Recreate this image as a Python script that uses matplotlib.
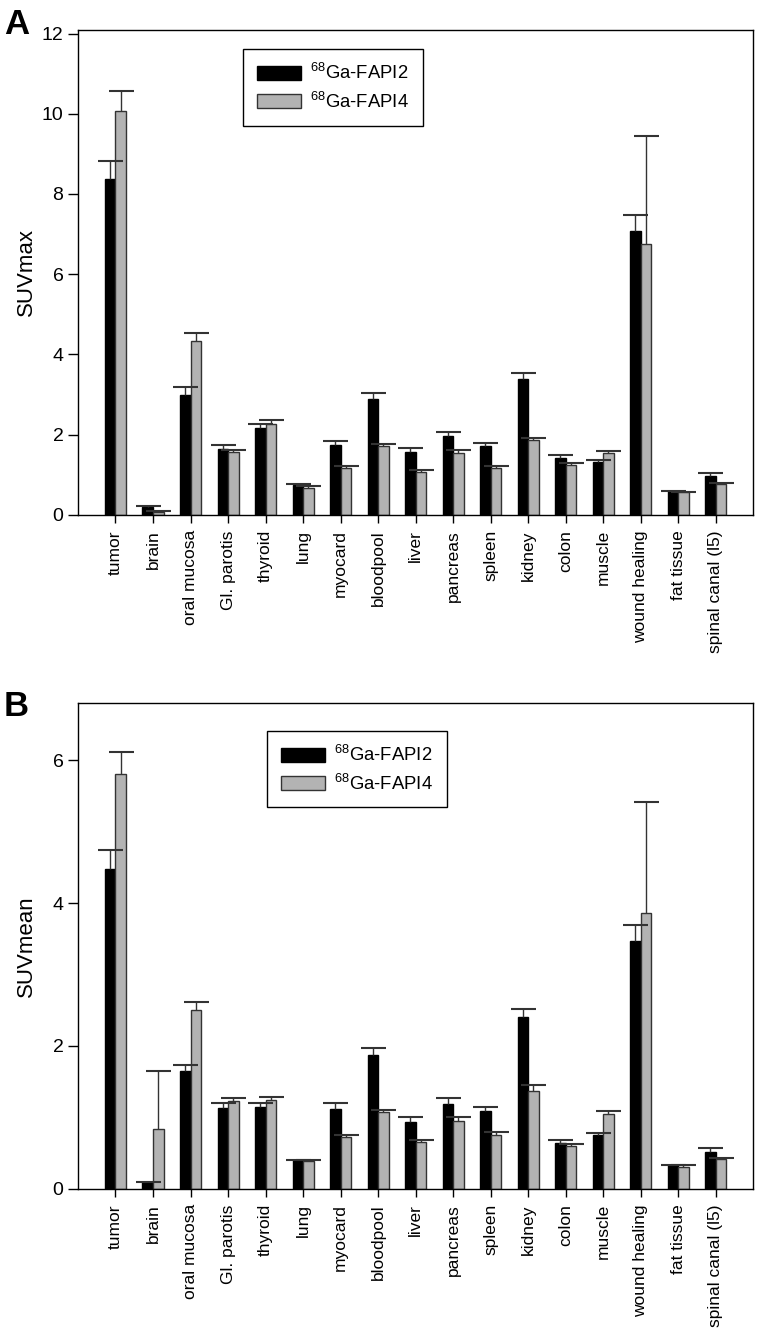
import matplotlib
matplotlib.use('Agg')
import matplotlib.pyplot as plt
import numpy as np

plt.rcParams['font.family'] = ['Liberation Sans', 'DejaVu Sans']
plt.rcParams['mathtext.default'] = 'regular'

organs = ['tumor', 'brain', 'oral mucosa', 'Gl. parotis', 'thyroid', 'lung',
          'myocard', 'bloodpool', 'liver', 'pancreas', 'spleen', 'kidney',
          'colon', 'muscle', 'wound healing', 'fat tissue', 'spinal canal (l5)']

# SUVmax (panel A)
max_fapi2 = [8.38, 0.21, 3.00, 1.65, 2.17, 0.75, 1.74, 2.89, 1.58, 1.98, 1.72,
             3.39, 1.42, 1.32, 7.07, 0.59, 0.96]
max_fapi2_err = [0.45, 0.02, 0.18, 0.09, 0.09, 0.01, 0.10, 0.14, 0.09, 0.09,
                 0.08, 0.15, 0.07, 0.04, 0.40, 0.0, 0.08]
max_fapi4 = [10.07, 0.08, 4.34, 1.58, 2.26, 0.68, 1.17, 1.72, 1.08, 1.54, 1.17,
             1.86, 1.24, 1.54, 6.75, 0.57, 0.78]
max_fapi4_err = [0.50, 0.03, 0.20, 0.05, 0.11, 0.03, 0.05, 0.06, 0.04, 0.08,
                 0.05, 0.07, 0.05, 0.06, 2.70, 0.01, 0.02]

# SUVmean (panel B)
mean_fapi2 = [4.47, 0.09, 1.65, 1.13, 1.14, 0.40, 1.12, 1.87, 0.93, 1.19, 1.09,
              2.40, 0.64, 0.75, 3.47, 0.33, 0.52]
mean_fapi2_err = [0.27, 0.01, 0.08, 0.07, 0.06, 0.01, 0.08, 0.10, 0.07, 0.08,
                  0.06, 0.12, 0.05, 0.03, 0.23, 0.0, 0.05]
mean_fapi4 = [5.81, 0.84, 2.51, 1.23, 1.25, 0.39, 0.72, 1.07, 0.66, 0.95, 0.76,
              1.37, 0.60, 1.05, 3.86, 0.31, 0.42]
mean_fapi4_err = [0.30, 0.81, 0.11, 0.04, 0.04, 0.02, 0.03, 0.03, 0.03, 0.05,
                  0.03, 0.08, 0.03, 0.04, 1.55, 0.02, 0.01]

labels = ['$^{68}$Ga-FAPI2', '$^{68}$Ga-FAPI4']
gray = '#b3b3b3'
edge = '#333333'
w = 0.28


def upper_err(ax, x, v, e):
	# one-sided error bar: only the upper cap is kept
	z = np.zeros(len(v))
	eb = ax.errorbar(x, v, yerr=[z, e], fmt='none', ecolor=edge, elinewidth=1,
	                 capsize=9, capthick=1.5, zorder=3)
	eb[1][0].set_visible(False)


def panel(ax, v2, e2, v4, e4, ylabel, ymax, yticks, leg_xy):
	x = np.arange(len(organs))
	b2 = ax.bar(x - w / 2, v2, w, color='black', edgecolor='black', linewidth=1, label=labels[0], zorder=2)
	b4 = ax.bar(x + w / 2, v4, w, color=gray, edgecolor=edge, linewidth=1, label=labels[1], zorder=2)
	upper_err(ax, x - w / 2, v2, e2)
	upper_err(ax, x + w / 2, v4, e4)
	ax.set_xlim(-1.0, len(organs))
	ax.set_ylim(0, ymax)
	ax.set_yticks(yticks)
	ax.set_xticks(x)
	ax.set_xticklabels(organs, rotation=90, fontsize=12.5)
	ax.tick_params(axis='y', labelsize=14, direction='out', length=7, width=1)
	ax.tick_params(axis='x', direction='out', length=6, width=1, pad=5)
	ax.tick_params(right=False, top=False)
	ax.set_ylabel(ylabel, fontsize=16)
	ax.yaxis.set_label_coords(-0.06, 0.5)
	for s in ax.spines.values():
		s.set_linewidth(1)
	leg = ax.legend(handles=[b2, b4], loc='upper left', bbox_to_anchor=leg_xy,
	                borderaxespad=0, fontsize=13.3, frameon=True, fancybox=False,
	                edgecolor='black', framealpha=1, handlelength=2.4,
	                handleheight=0.8, handletextpad=0.5, borderpad=0.75,
	                labelspacing=0.45)
	leg.get_frame().set_linewidth(1)


fig = plt.figure(figsize=(7.57, 13.41), dpi=100)
axA = fig.add_axes([0.103, 0.616, 0.892, 0.362])
axB = fig.add_axes([0.103, 0.1134, 0.892, 0.3624])

panel(axA, max_fapi2, max_fapi2_err, max_fapi4, max_fapi4_err, 'SUVmax', 12.1,
      np.arange(0, 13, 2), (0.244, 0.959))
panel(axB, mean_fapi2, mean_fapi2_err, mean_fapi4, mean_fapi4_err, 'SUVmean', 6.8,
      np.arange(0, 7, 2), (0.28, 0.942))

fig.text(0.005, 1 - 34 / 1341., 'A', fontsize=25, fontweight='bold', va='baseline')
fig.text(0.005, 1 - 716 / 1341., 'B', fontsize=25, fontweight='bold', va='baseline')

fig.savefig('out.png', dpi=100)
